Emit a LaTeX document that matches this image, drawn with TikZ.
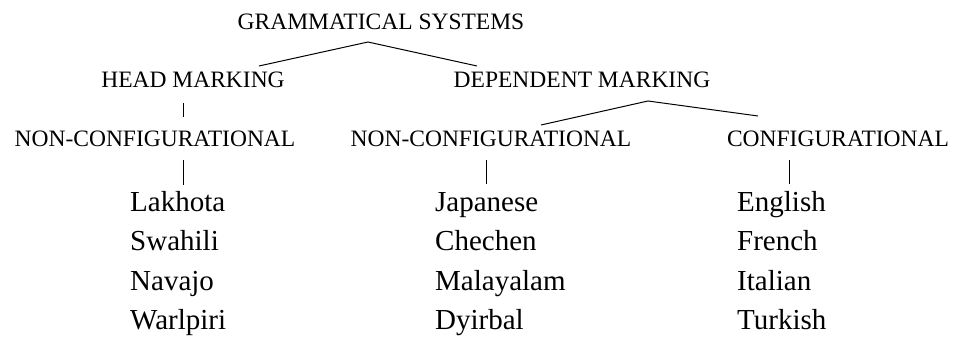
\documentclass[tikz,border=0pt]{standalone}
\usepackage{fontspec}
\setmainfont{Liberation Serif}
\begin{document}
\begin{tikzpicture}[x=1pt,y=-1pt,
  cat/.style={inner sep=0pt,anchor=base,font=\fontsize{23.5}{28}\selectfont},
  lang/.style={inner sep=0pt,anchor=base west,font=\fontsize{29}{33}\selectfont},
  branch/.style={line width=1pt}]
\useasboundingbox (0,0) rectangle (958,344);

% category labels
\node[cat] (gs)   at (381,30)  {GRAMMATICAL SYSTEMS};
\node[cat] (hm)   at (193,88)  {HEAD MARKING};
\node[cat] (dm)   at (582,88)  {DEPENDENT MARKING};
\node[cat] (hnc)  at (155,147) {NON-CONFIGURATIONAL};
\node[cat] (dnc)  at (491,147) {NON-CONFIGURATIONAL};
\node[cat] (dc)   at (838,147) {CONFIGURATIONAL};

% language lists
\node[lang] (l1) at (130,212) {Lakhota};
\node[lang] (l2) at (130,251) {Swahili};
\node[lang] (l3) at (130,291) {Navajo};
\node[lang] (l4) at (130,330) {Warlpiri};
\node[lang] (m1) at (435,212) {Japanese};
\node[lang] (m2) at (435,251) {Chechen};
\node[lang] (m3) at (435,291) {Malayalam};
\node[lang] (m4) at (435,330) {Dyirbal};
\node[lang] (r1) at (737,212) {English};
\node[lang] (r2) at (737,251) {French};
\node[lang] (r3) at (737,291) {Italian};
\node[lang] (r4) at (737,330) {Turkish};

% branch points
\coordinate (gs-apex) at (368,42);
\coordinate (hm-top)  at (259,66);
\coordinate (dm-top)  at (477,66);
\coordinate (hm-foot) at (183,103);
\coordinate (hnc-top) at (183,117);
\coordinate (hnc-foot) at (183,160);
\coordinate (l-top)   at (183,185);
\coordinate (dm-apex) at (648,101);
\coordinate (dnc-top) at (541,125);
\coordinate (dc-top)  at (758,116);
\coordinate (dnc-foot) at (486,160);
\coordinate (m-top)   at (486,184);
\coordinate (dc-foot) at (789,160);
\coordinate (r-top)   at (789,184);

% tree branches
\draw[branch] (hm-top) -- (gs-apex) -- (dm-top);
\draw[branch] (hm-foot) -- (hnc-top);
\draw[branch] (hnc-foot) -- (l-top);
\draw[branch] (dnc-top) -- (dm-apex) -- (dc-top);
\draw[branch] (dnc-foot) -- (m-top);
\draw[branch] (dc-foot) -- (r-top);
\end{tikzpicture}
\end{document}
